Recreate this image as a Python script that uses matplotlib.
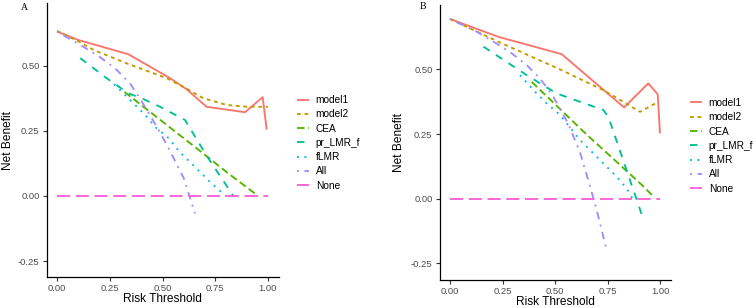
import matplotlib
matplotlib.use("Agg")
import matplotlib.pyplot as plt

plt.rcParams['font.family'] = ['Liberation Sans', 'DejaVu Sans']

series_names = ["model1", "model2", "CEA", "pr_LMR_f", "fLMR", "All", "None"]
colors = ["#F8766D", "#C49A00", "#53B400", "#00C094", "#00B6EB", "#A58AFF", "#FB61D7"]
styles = ["-", (0, (2, 2)), (0, (4, 2)), (0, (4, 4)), (0, (1, 3)), (0, (1, 3, 4, 3)), (0, (7, 3))]

# ---- Panel A data ----
a_model1_x = [0, 0.1, 0.338, 0.536, 0.615, 0.709, 0.891, 0.975, 0.994]
a_model1_y = [0.632, 0.6, 0.545, 0.453, 0.41, 0.343, 0.322, 0.38, 0.255]
a_model2_x = [0, 0.1, 0.172, 0.33, 0.52, 0.62, 0.693, 0.804, 0.9, 1.0]
a_model2_y = [0.635, 0.595, 0.562, 0.51, 0.453, 0.41, 0.376, 0.35, 0.343, 0.343]
a_cea_x = [0.32, 0.5, 0.7, 0.81, 0.954]
a_cea_y = [0.40, 0.286, 0.159, 0.088, 0.0]
a_pr_x = [0.11, 0.235, 0.338, 0.409, 0.488, 0.607, 0.709, 0.836]
a_pr_y = [0.53, 0.453, 0.395, 0.373, 0.343, 0.292, 0.155, 0.0]
a_flmr_x = [0.27, 0.33, 0.41, 0.47, 0.53, 0.58, 0.65, 0.72, 0.80]
a_flmr_y = [0.43, 0.382, 0.318, 0.262, 0.222, 0.17, 0.115, 0.058, 0.0]
a_all_x = [0, 0.11, 0.2, 0.275, 0.346, 0.393, 0.441, 0.488, 0.528, 0.6, 0.654]
a_all_y = [0.632, 0.581, 0.536, 0.491, 0.433, 0.375, 0.31, 0.245, 0.185, 0.07, -0.067]
a_none_x = [0, 1.0]
a_none_y = [0, 0]

# ---- Panel B data ----
b_model1_x = [0, 0.23, 0.532, 0.829, 0.944, 0.989, 1.0]
b_model1_y = [0.695, 0.626, 0.559, 0.353, 0.446, 0.404, 0.253]
b_model2_x = [0, 0.23, 0.532, 0.73, 0.825, 0.905, 0.984]
b_model2_y = [0.695, 0.607, 0.497, 0.42, 0.375, 0.336, 0.371]
b_cea_x = [0.389, 0.651, 0.897, 0.965]
b_cea_y = [0.452, 0.248, 0.066, 0.012]
b_pr_x = [0.159, 0.365, 0.508, 0.73, 0.754, 0.921]
b_pr_y = [0.588, 0.478, 0.407, 0.343, 0.317, -0.08]
b_flmr_x = [0.333, 0.413, 0.46, 0.524, 0.619, 0.714, 0.794, 0.841, 0.87]
b_flmr_y = [0.478, 0.407, 0.369, 0.324, 0.227, 0.15, 0.085, 0.04, 0.0]
b_all_x = [0, 0.127, 0.222, 0.294, 0.365, 0.429, 0.492, 0.563, 0.619, 0.659, 0.698, 0.746]
b_all_y = [0.695, 0.646, 0.6, 0.562, 0.517, 0.465, 0.394, 0.29, 0.18, 0.07, -0.042, -0.198]
b_none_x = [0, 1.0]
b_none_y = [0, 0]

panel_a = [(a_model1_x, a_model1_y), (a_model2_x, a_model2_y), (a_cea_x, a_cea_y),
           (a_pr_x, a_pr_y), (a_flmr_x, a_flmr_y), (a_all_x, a_all_y), (a_none_x, a_none_y)]
panel_b = [(b_model1_x, b_model1_y), (b_model2_x, b_model2_y), (b_cea_x, b_cea_y),
           (b_pr_x, b_pr_y), (b_flmr_x, b_flmr_y), (b_all_x, b_all_y), (b_none_x, b_none_y)]

x_ticks = [0.0, 0.25, 0.5, 0.75, 1.0]
x_ticklabels = ["0.00", "0.25", "0.50", "0.75", "1.00"]
y_ticks = [-0.25, 0.0, 0.25, 0.5]
y_ticklabels = ["-0.25", "0.00", "0.25", "0.50"]

W, H = 753, 308
fig = plt.figure(figsize=(W / 100, H / 100), dpi=100)

def px_axes(l, t, r, b):
    return fig.add_axes([l / W, 1 - b / H, (r - l) / W, (b - t) / H])

axA = px_axes(46.5, 3, 278.5, 277)
axB = px_axes(439.5, 5, 670.5, 280)

configs = [
    (axA, panel_a, (-0.3115, 0.742), "A", 20.5, 2.5, (297, 142.9), 8, 299.5),
    (axB, panel_b, (-0.314, 0.749), "B", 420, 2.0, (690, 145.8), 399, 302.0),
]

for ax, data, ylim, letter, lx, ly, leg_pos, ylab_x, xlab_y in configs:
    for (xs, ys), name, c, ls in zip(data, series_names, colors, styles):
        ax.plot(xs, ys, color=c, linestyle=ls, linewidth=1.35, label=name,
                solid_capstyle='butt', dash_capstyle='butt')
    ax.set_xlim(-0.05, 1.05)
    ax.set_ylim(*ylim)
    ax.set_xticks(x_ticks)
    ax.set_xticklabels(x_ticklabels)
    ax.set_yticks(y_ticks)
    ax.set_yticklabels(y_ticklabels)
    for s in ["top", "right"]:
        ax.spines[s].set_visible(False)
    for s in ["left", "bottom"]:
        ax.spines[s].set_linewidth(0.9)
        ax.spines[s].set_color("black")
    ax.tick_params(axis='both', length=3, width=0.8, color="#333333",
                   labelsize=6.8, labelcolor="#4D4D4D", pad=2.0)
    ax.set_xlabel("Risk Threshold", fontsize=8.6, color="black")
    ax.set_ylabel("Net Benefit", fontsize=8.6, color="black")
    ax.xaxis.label.set_verticalalignment('center')
    ax.yaxis.label.set_verticalalignment('center')
    pos = ax.get_position()
    bb_w = pos.width * W
    bb_h = pos.height * H
    l_px = pos.x0 * W
    b_px = (1 - pos.y0) * H
    ax.yaxis.set_label_coords((ylab_x - l_px) / bb_w, 0.5)
    ax.xaxis.set_label_coords(0.5, (b_px - xlab_y) / bb_h)
    fig.text(lx / W, 1 - ly / H, letter, family=['Liberation Serif', 'DejaVu Serif'],
             fontsize=7, ha='left', va='top')
    ax.legend(loc='center left', bbox_to_anchor=(leg_pos[0] / W, 1 - leg_pos[1] / H),
              bbox_transform=fig.transFigure, frameon=False, fontsize=7.3,
              handlelength=1.2, handletextpad=0.65, labelspacing=0.42,
              borderpad=0, borderaxespad=0)

fig.savefig("out.png", dpi=100)
